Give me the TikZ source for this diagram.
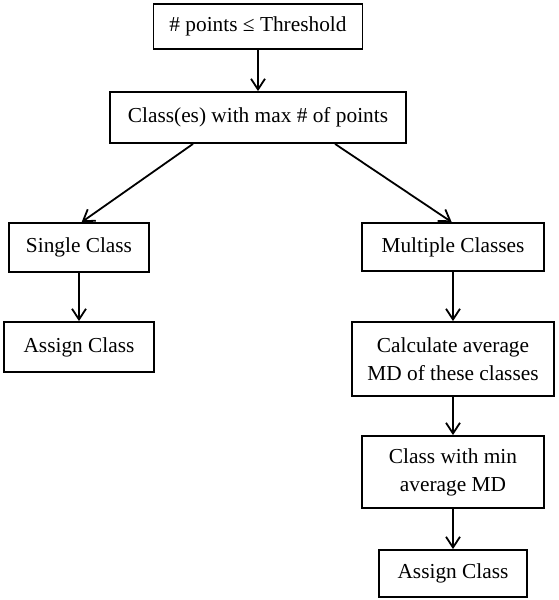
\documentclass[tikz,border=0pt]{standalone}
\usepackage{fontspec}
\setmainfont{Liberation Serif}
\usetikzlibrary{arrows.meta}

\begin{document}
\begin{tikzpicture}[x=0.75pt,y=-0.75pt,line width=1.35pt,
    box/.style={draw,rectangle,align=center,inner sep=0pt,
      font=\fontsize{16}{21}\selectfont},
    arr/.style={-{Straight Barb[length=8pt,width=10.5pt,line width=1.35pt]}}]
      \useasboundingbox (0,0) rectangle (558,600);
      \node[box,minimum width=156.75pt,minimum height=33.75pt] (thresh) at (258,26.5) {\# points ≤ Threshold};
      \node[box,minimum width=222pt,minimum height=38.25pt] (maxpts) at (258,117.5) {Class(es) with max \# of points};
      \node[box,minimum width=105pt,minimum height=36.75pt] (single) at (79,247.5) {Single Class};
      \node[box,minimum width=136.5pt,minimum height=36pt] (multi) at (453,247) {Multiple Classes};
      \node[box,minimum width=112.5pt,minimum height=37.5pt] (assignL) at (79,347) {Assign Class};
      \node[box,minimum width=151.5pt,minimum height=55.5pt] (calc) at (453,359) {Calculate average\\MD of these classes};
      \node[box,minimum width=136.5pt,minimum height=54pt] (minmd) at (453,472) {Class with min\\average MD};
      \node[box,minimum width=111pt,minimum height=35.25pt] (assignR) at (453,573.5) {Assign Class};
      \draw[arr] (thresh) -- (maxpts);
      \draw[arr] ([xshift=-48.75pt]maxpts.south) -- ([xshift=2pt]single.north);
      \draw[arr] ([xshift=57.75pt]maxpts.south) -- ([xshift=-1pt]multi.north);
      \draw[arr] (single) -- (assignL);
      \draw[arr] (multi) -- (calc);
      \draw[arr] (calc) -- (minmd);
      \draw[arr] (minmd) -- (assignR);
    \end{tikzpicture}
\end{document}
